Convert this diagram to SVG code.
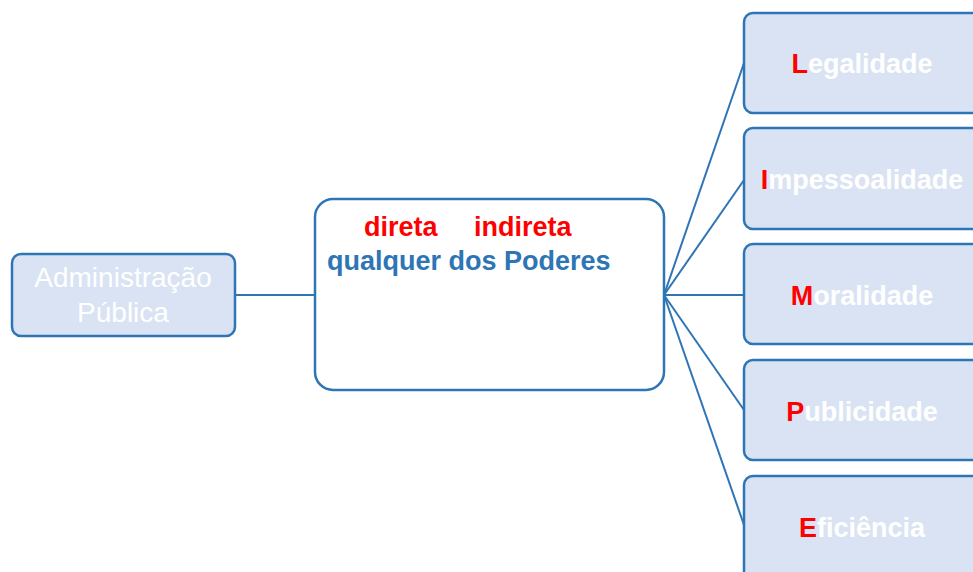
<svg xmlns="http://www.w3.org/2000/svg" width="973" height="572" viewBox="0 0 973 572">
<style>
.box{fill:#DAE3F3;stroke:#2E75B6;stroke-width:2.5}
.mid{fill:#FFFFFF;stroke:#2E75B6;stroke-width:2.5}
.conn{stroke:#2E75B6;stroke-width:2;fill:none}
.lbl{font-family:"Liberation Sans",Arial,sans-serif;font-size:27px;font-weight:bold;fill:#FFFFFF;text-anchor:middle}
.red{fill:#FF0000}
.adm{font-family:"Liberation Sans",Arial,sans-serif;font-size:28px;fill:#FFFFFF;text-anchor:middle}
.mt{font-family:"Liberation Sans",Arial,sans-serif;font-size:27px;font-weight:bold}
</style>
<rect width="973" height="572" fill="#FFFFFF"/>
<g id="connectors">
<line class="conn" x1="235" y1="295" x2="315" y2="295"/>
<line class="conn" x1="664" y1="295" x2="744" y2="63"/>
<line class="conn" x1="664" y1="295" x2="744" y2="180"/>
<line class="conn" x1="664" y1="295" x2="744" y2="295"/>
<line class="conn" x1="664" y1="295" x2="744" y2="410"/>
<line class="conn" x1="664" y1="295" x2="744" y2="525"/>
</g>
<g id="admin">
<rect class="box" x="12" y="254" width="223" height="82" rx="9"/>
<text class="adm" x="123" y="287">Administração</text>
<text class="adm" x="123" y="322">Pública</text>
</g>
<g id="center">
<rect class="mid" x="315" y="199" width="349" height="191" rx="18"/>
<text class="mt" x="364" y="236" fill="#FF0000">direta</text>
<text class="mt" x="474" y="236" fill="#FF0000">indireta</text>
<text class="mt" x="327" y="270" fill="#2E75B6">qualquer dos Poderes</text>
</g>
<g id="legalidade">
<rect class="box" x="744" y="13" width="250" height="100" rx="9"/>
<text class="lbl" x="862" y="73"><tspan class="red">L</tspan>egalidade</text>
</g>
<g id="impessoalidade">
<rect class="box" x="744" y="128" width="250" height="101" rx="9"/>
<text class="lbl" x="862" y="189"><tspan class="red">I</tspan>mpessoalidade</text>
</g>
<g id="moralidade">
<rect class="box" x="744" y="244" width="250" height="100" rx="9"/>
<text class="lbl" x="862" y="305"><tspan class="red">M</tspan>oralidade</text>
</g>
<g id="publicidade">
<rect class="box" x="744" y="360" width="250" height="100" rx="9"/>
<text class="lbl" x="862" y="421"><tspan class="red">P</tspan>ublicidade</text>
</g>
<g id="eficiencia">
<rect class="box" x="744" y="476" width="250" height="110" rx="9"/>
<text class="lbl" x="862" y="537"><tspan class="red">E</tspan>ficiência</text>
</g>
</svg>
